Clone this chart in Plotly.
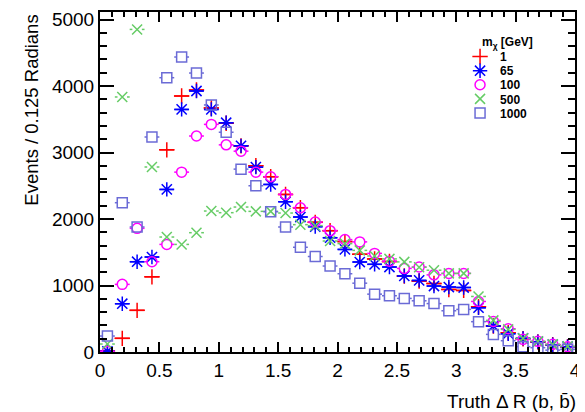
import numpy as np
import plotly.graph_objects as go

bin_width = 0.125
centers = np.arange(32) * bin_width + bin_width / 2

m1 = [15, 205, 626, 1130, 3040, 3850, 3940, 3670, 3440, 3100, 2800, 2636, 2370, 2170, 1950, 1825,
      1660, 1470, 1400, 1360, 1143, 1068, 1030, 941, 926, 680, 391, 290, 200, 150, 110, 80]
m65 = [10, 726, 1358, 1428, 2445, 3648, 3925, 3648, 3448, 3100, 2780, 2520, 2260, 2030, 1885, 1719,
       1543, 1353, 1318, 1278, 1143, 1077, 992, 977, 970, 666, 391, 275, 205, 155, 110, 80]
m100 = [10, 1017, 1860, 1358, 1618, 2705, 3248, 3423, 3115, 3020, 2705, 2636, 2370, 2170, 1955, 1825,
        1690, 1656, 1483, 1365, 1257, 1278, 1160, 1182, 1182, 760, 460, 350, 190, 160, 115, 80]
m500 = [120, 3835, 4851, 2782, 1729, 1618, 1794, 2120, 2095, 2180, 2115, 2115, 2090, 1915, 1900, 1669,
        1630, 1528, 1444, 1400, 1355, 1275, 1230, 1182, 1182, 835, 476, 340, 205, 160, 115, 85]
m1000 = [240, 2245, 1880, 3233, 4125, 4436, 4195, 3715, 3305, 2750, 2500, 2110, 1880, 1575, 1436, 1293,
         1177, 1035, 870, 846, 806, 770, 728, 620, 641, 456, 265, 170, 80, 65, 28, 40]

series = [
    ("1", m1, "#ff0000", "cross-thin", 11, 0.0),
    ("65", m65, "#0000ff", "asterisk", 12, 0.0),
    ("100", m100, "#ff00ff", "circle-open", 10, 0.042),
    ("500", m500, "#66cc66", "x-thin", 10, 0.04),
    ("1000", m1000, "#6b6bd6", "square-open", 10, 0.042),
]

# legend rows: pixel centre (from top) converted to paper fraction
plot_top, plot_h = 4, 340
legend_rows_px = [48.5, 62.7, 76.8, 90.9, 105.0]
legend_names = ["legend", "legend2", "legend3", "legend4", "legend5"]

fig = go.Figure()
hw = bin_width / 2
for k, (name, vals, col, sym, size, gap) in enumerate(series):
    xs, ys = [], []
    for xi, yi in zip(centers, vals):
        if gap > 0:
            xs += [xi - hw, xi - gap, None, xi + gap, xi + hw, None]
            ys += [yi, yi, None, yi, yi, None]
        else:
            xs += [xi - hw, xi + hw, None]
            ys += [yi, yi, None]
    fig.add_trace(go.Scatter(x=xs, y=ys, mode="lines", line=dict(color=col, width=1.5),
                             showlegend=False, hoverinfo="skip", legendgroup=name))
    fig.add_trace(go.Scatter(x=centers, y=vals, mode="markers", name=name, legendgroup=name,
                             legend=legend_names[k],
                             marker=dict(symbol=sym, size=size, color=col,
                                         line=dict(color=col, width=1.5))))

axis_common = dict(showline=True, linecolor="black", linewidth=2, mirror="allticks",
                   ticks="inside", tickcolor="black", tickwidth=1.5, showgrid=False,
                   zeroline=False, automargin=False,
                   tickfont=dict(family="Liberation Sans", size=19, color="black"))

fig.update_xaxes(range=[0, 4], dtick=0.5, tick0=0, ticklen=10,
                 minor=dict(dtick=0.1, ticks="inside", ticklen=5, tickcolor="black", tickwidth=1.5),
                 **axis_common)
fig.update_yaxes(range=[0, 5113], dtick=1000, tick0=0, ticklen=14, tickformat="d",
                 minor=dict(dtick=200, ticks="inside", ticklen=7, tickcolor="black", tickwidth=1.5),
                 **axis_common)

fig.add_annotation(text="Events / 0.125 Radians", textangle=-90, xref="paper", yref="paper",
                   x=-0.145, y=0.997, xanchor="center", yanchor="top", showarrow=False,
                   font=dict(family="Liberation Sans", size=18.5, color="black"))
fig.add_annotation(text="Truth \u0394 R (b, b\u0304)", xref="paper", yref="paper",
                   x=1.0063, y=-0.147, xanchor="right", yanchor="middle", showarrow=False,
                   font=dict(family="Liberation Sans", size=19, color="black"))
fig.add_annotation(text="<b>m<sub>\u03c7</sub> [GeV]</b>", xref="paper", yref="paper",
                   x=0.80, y=(plot_top + plot_h - 35) / plot_h, xanchor="left", yanchor="middle",
                   showarrow=False,
                   font=dict(family="Liberation Sans", size=12, color="black"))

layout_legends = {}
for ln, py in zip(legend_names, legend_rows_px):
    layout_legends[ln] = dict(x=0.758, y=(plot_top + plot_h - py) / plot_h,
                              xanchor="left", yanchor="middle", bgcolor="rgba(0,0,0,0)",
                              font=dict(family="Liberation Sans", size=12, color="black",
                                        weight="bold"),
                              itemwidth=30)

fig.update_layout(
    width=585, height=412,
    margin=dict(l=92, r=18, t=4, b=68),
    paper_bgcolor="white", plot_bgcolor="white",
    **layout_legends,
)

fig.write_html("out.html")
